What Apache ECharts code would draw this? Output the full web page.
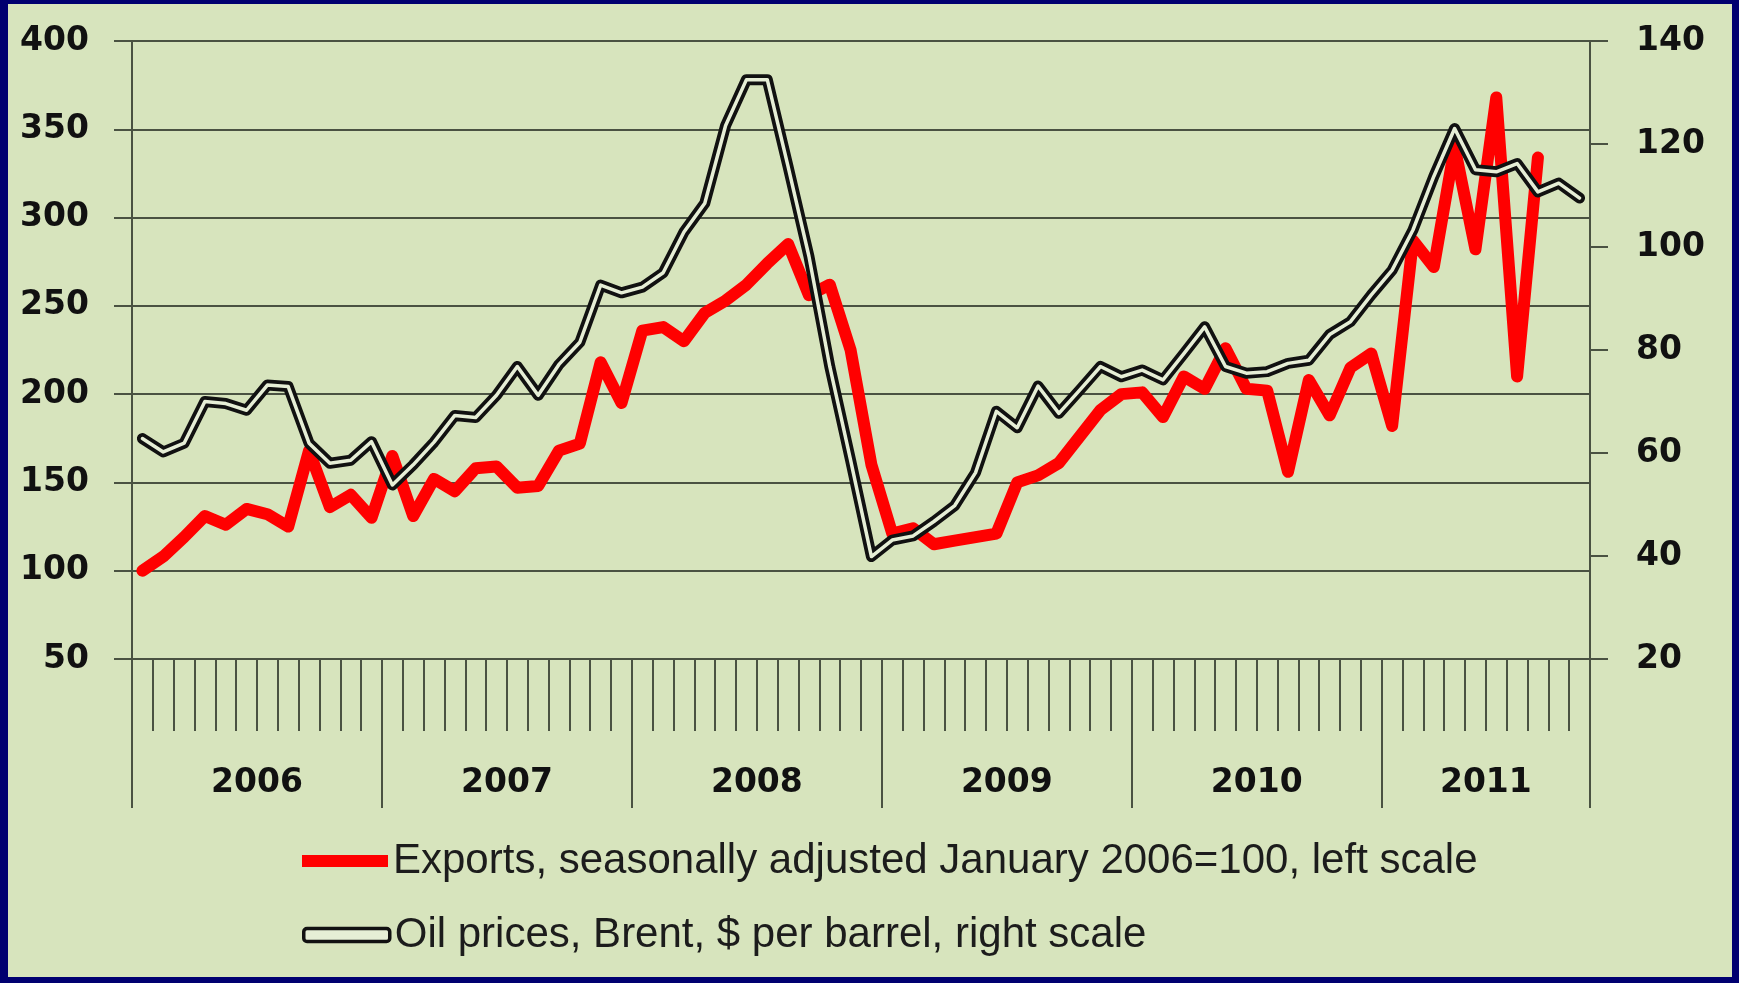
<!DOCTYPE html>
<html>
<head>
<meta charset="utf-8">
<title>Exports and oil prices</title>
<script src="https://cdn.jsdelivr.net/npm/echarts@6.0.0/dist/echarts.min.js"></script>
<style>
	html, body { margin: 0; padding: 0; background: #000070; overflow: hidden; }
	#chart { position: absolute; left: 8px; top: 4px; width: 1724px; height: 973px; }
</style>
</head>
<body>
<div id="chart"></div>
<script>
const years = ['2006', '2007', '2008', '2009', '2010', '2011'];
const monthsPerYear = [12, 12, 12, 12, 12, 10];
const monthNames = ['Jan', 'Feb', 'Mar', 'Apr', 'May', 'Jun', 'Jul', 'Aug', 'Sep', 'Oct', 'Nov', 'Dec'];

// left scale, January 2006 = 100
const exportsIndex = [
	100, 108, 119, 131, 126, 135, 132, 125, 168, 136, 143, 130,
	165, 131, 152, 145, 158, 159, 147, 148, 168, 172, 218, 195,
	236, 238, 230, 246, 253, 262, 274, 285, 256, 262, 225, 160,
	121, 124, 115, 117, 119, 121, 150, 154, 161, 176, 191, 200,
	201, 187, 210, 203, 226, 203, 202, 156, 208, 188, 215, 223,
	182, 287, 272, 340, 282, 368, 210, 334
];
// right scale, $ per barrel
const oilPrice = [
	62.8, 60.2, 61.9, 70.0, 69.6, 68.3, 73.2, 72.9, 61.9, 58.0, 58.6, 62.2,
	53.8, 57.7, 62.1, 67.3, 66.9, 71.2, 76.8, 71.2, 77.2, 81.5, 92.6, 91.1,
	92.2, 95.0, 102.9, 108.5, 123.6, 132.5, 132.5, 115.6, 98.2, 76.8, 58.6, 39.9,
	43.1, 43.9, 46.7, 49.8, 56.2, 68.1, 64.9, 73.0, 67.7, 72.2, 76.8, 74.8,
	76.1, 74.2, 79.3, 84.5, 76.8, 75.5, 75.8, 77.4, 78.0, 83.0, 85.5, 90.7,
	95.5, 103.3, 113.7, 123.0, 115.0, 114.6, 116.2, 110.7, 112.4, 109.5
];

const leftTicks = [50, 100, 150, 200, 250, 300, 350, 400];
const rightTicks = [20, 40, 60, 80, 100, 120, 140];

const exportsName = 'Exports, seasonally adjusted January 2006=100, left scale';
const oilName = 'Oil prices, Brent, $ per barrel, right scale';

// month categories and year boundaries
const months = [];
const yearEdges = [0];
const yearCenters = [];
years.forEach((y, k) => {
	for (let m = 0; m < monthsPerYear[k]; m++) months.push(monthNames[m] + ' ' + y);
	yearCenters.push(yearEdges[k] + monthsPerYear[k] / 2);
	yearEdges.push(yearEdges[k] + monthsPerYear[k]);
});

const lineColor = '#4a5242';
const boldLabel = {
	color: '#111',
	fontFamily: 'DejaVu Sans',
	fontWeight: 'bold',
	fontSize: 33
};
const legendText = {
	color: '#1c1c1c',
	fontFamily: '"Liberation Sans", sans-serif',
	fontSize: 42,
	lineHeight: 50
};

const chart = echarts.init(document.getElementById('chart'), null, { renderer: 'canvas' });

chart.setOption({
	animation: false,
	backgroundColor: '#d7e4bd',
	grid: { left: 124, top: 37, width: 1458, height: 618 },
	legend: [
		{
			left: 294, top: 832, orient: 'vertical', padding: 0,
			itemWidth: 86, itemHeight: 12, selectedMode: false,
			textStyle: legendText,
			data: [{ name: exportsName, icon: 'rect', itemStyle: { color: '#ff0000' } }]
		},
		{
			left: 294, top: 906, orient: 'vertical', padding: 0,
			itemWidth: 86, itemHeight: 13, selectedMode: false,
			textStyle: legendText,
			data: [{
				name: oilName, icon: 'roundRect',
				itemStyle: { color: '#e6eed6', borderColor: '#111', borderWidth: 3.5 }
			}]
		}
	],
	xAxis: [
		{
			type: 'category',
			data: months,
			position: 'bottom',
			boundaryGap: true,
			axisLine: { show: true, lineStyle: { color: lineColor, width: 2 } },
			axisTick: { show: true, interval: 0, length: 72, lineStyle: { color: lineColor, width: 2 } },
			axisLabel: { show: false },
			splitLine: { show: false }
		},
		{
			type: 'value',
			position: 'bottom',
			min: 0,
			max: yearEdges[yearEdges.length - 1],
			axisLine: { show: false },
			axisTick: { show: true, length: 149, customValues: yearEdges, lineStyle: { color: lineColor, width: 2 } },
			axisLabel: Object.assign({
				customValues: yearCenters,
				margin: 124,
				verticalAlign: 'middle',
				formatter: (v) => years[yearCenters.indexOf(v)] || ''
			}, boldLabel),
			splitLine: { show: false }
		}
	],
	yAxis: [
		{
			type: 'value',
			position: 'left',
			min: leftTicks[0],
			max: leftTicks[leftTicks.length - 1],
			interval: leftTicks[1] - leftTicks[0],
			axisLine: { show: true, lineStyle: { color: lineColor, width: 2 } },
			axisTick: { show: true, length: 18, lineStyle: { color: lineColor, width: 2 } },
			axisLabel: Object.assign({ margin: 43 }, boldLabel),
			splitLine: { show: true, lineStyle: { color: lineColor, width: 2 } }
		},
		{
			type: 'value',
			position: 'right',
			min: rightTicks[0],
			max: rightTicks[rightTicks.length - 1],
			interval: rightTicks[1] - rightTicks[0],
			axisLine: { show: true, lineStyle: { color: lineColor, width: 2 } },
			axisTick: { show: true, length: 18, lineStyle: { color: lineColor, width: 2 } },
			axisLabel: Object.assign({ margin: 46 }, boldLabel),
			splitLine: { show: false }
		}
	],
	series: [
		{
			name: exportsName,
			type: 'line',
			data: exportsIndex,
			yAxisIndex: 0,
			symbol: 'none',
			z: 3,
			itemStyle: { color: '#ff0000' },
			lineStyle: { color: '#ff0000', width: 12, join: 'round', cap: 'round' }
		},
		{
			name: oilName,
			type: 'line',
			data: oilPrice,
			yAxisIndex: 1,
			symbol: 'none',
			z: 4,
			itemStyle: { color: '#111' },
			lineStyle: { color: '#111', width: 11, join: 'round', cap: 'round' }
		},
		{
			name: 'oilInner',
			type: 'line',
			data: oilPrice,
			yAxisIndex: 1,
			symbol: 'none',
			z: 5,
			silent: true,
			lineStyle: { color: '#e6eed6', width: 3.5, join: 'round', cap: 'round' }
		}
	]
});
</script>
</body>
</html>
